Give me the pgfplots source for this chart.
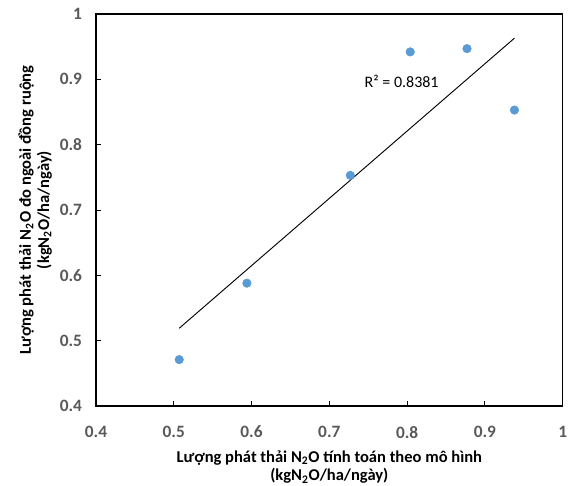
\documentclass[border=0pt]{standalone}
\usepackage{fontspec}
\setmainfont{Carlito}
\usepackage{pgfplots}
\pgfplotsset{compat=1.18}
\definecolor{ptblue}{HTML}{5B9BD5}
\definecolor{tickgray}{HTML}{595959}
\newcommand\tickfont{\fontsize{13}{15}\selectfont\bfseries}
\newcommand\lblfont{\fontsize{12.4}{14}\selectfont\bfseries}
\begin{document}
\begin{tikzpicture}
\begin{axis}[
  scale only axis,
  width=350pt, height=294pt,
  xmin=0.4, xmax=1, ymin=0.4, ymax=1,
  xtick={0.4,0.5,...,1.0}, ytick={0.4,0.5,...,1.0},
  xticklabels={0.4,0.5,0.6,0.7,0.8,0.9,1},
  yticklabels={0.4,0.5,0.6,0.7,0.8,0.9,1},
  tick align=inside,
  xtick pos=bottom, ytick pos=left,
  major tick length=4pt,
  axis line style={black, line width=0.8pt},
  tick style={black, line width=0.7pt},
  /pgf/number format/assume math mode=true,
  ticklabel style={font=\tickfont, text=tickgray},
  xticklabel style={yshift=-11.5pt},
  yticklabel style={xshift=-7pt},
  clip=false,
]
\addplot[only marks, mark=*, mark size=3.2pt, mark options={fill=ptblue, draw=ptblue}] coordinates {
(0.507,0.471) (0.594,0.588) (0.727,0.753) (0.804,0.942) (0.877,0.947) (0.938,0.853)
};
% linear trend line
\addplot[black, line width=0.7pt] coordinates {(0.507,0.519) (0.938,0.963)};
\node[font=\fontsize{12}{14}\selectfont, anchor=base] at (axis cs:0.793,0.887) {R² = 0.8381};
% axis titles
\node[font=\lblfont, anchor=base] at (axis description cs:0.5,-0.1429) {Lượng phát thải N\textsubscript{2}O tính toán theo mô hình};
\node[font=\lblfont, anchor=base] at (axis description cs:0.5,-0.1913) {(kgN\textsubscript{2}O/ha/ngày)};
\node[font=\lblfont, anchor=base, rotate=90] at (axis description cs:-0.1393,0.5) {Lượng phát thải N\textsubscript{2}O đo ngoài đồng ruộng};
\node[font=\lblfont, anchor=base, rotate=90] at (axis description cs:-0.1007,0.5) {(kgN\textsubscript{2}O/ha/ngày)};
\end{axis}
\pgfresetboundingbox
\path (-72pt,-59.25pt) rectangle (355.5pt,304.5pt);
\end{tikzpicture}
\end{document}
